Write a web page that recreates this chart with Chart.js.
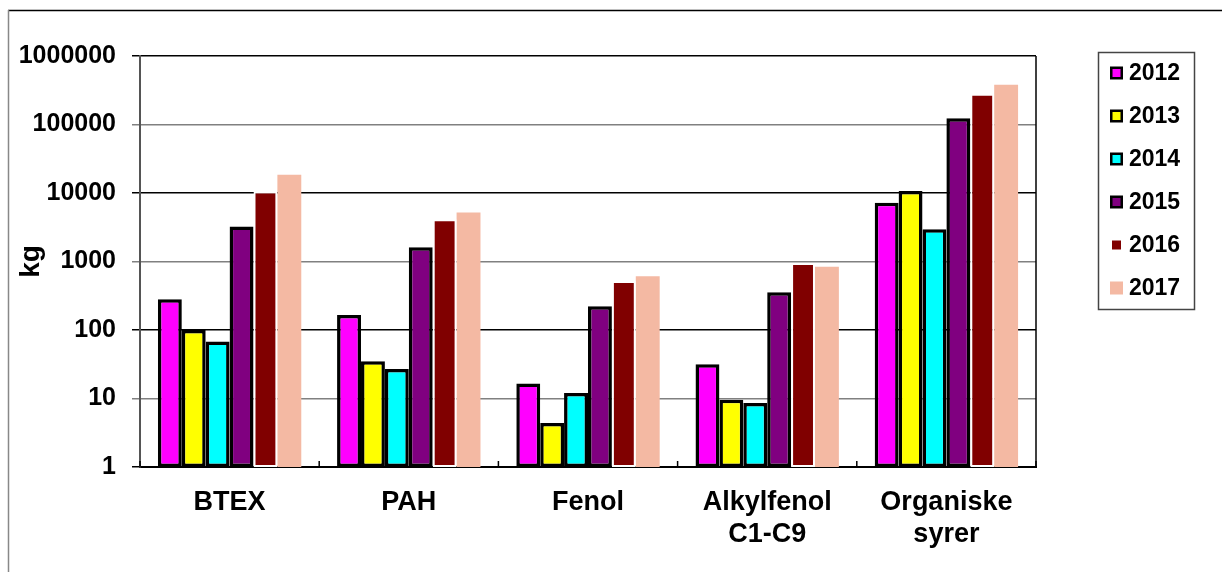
<!DOCTYPE html>
<html lang="en">
<head>
    <meta charset="UTF-8">
    <title>Utslipp kg</title>
    <script src="https://cdn.jsdelivr.net/npm/chart.js"></script>
    <style>
        body { margin: 0; background: #fff; }
        .wrap { width: 1222px; height: 572px; position: relative; }
    </style>
</head>
<body>
    <div class="wrap">
        <canvas id="chart"></canvas>
    </div>

    <script>
        // data (log scale, kg)
        const categories = ['BTEX', 'PAH', 'Fenol', ['Alkylfenol', 'C1-C9'], ['Organiske', 'syrer']];
        const years = ['2012', '2013', '2014', '2015', '2016', '2017'];
        const v2012 = [280, 165, 16.5, 31.5, 7200];
        const v2013 = [100, 35, 4.4, 9.6, 10700];
        const v2014 = [68, 27, 12, 8.6, 2950];
        const v2015 = [3250, 1620, 222, 355, 123000];
        const v2016 = [10500, 4150, 520, 950, 280000];
        const v2017 = [18500, 5200, 610, 840, 380000];
        const yTicks = [1, 10, 100, 1000, 10000, 100000, 1000000];

        const colors = ['#ff00ff', '#ffff00', '#00ffff', '#800080', '#800000', '#f4b9a3'];
        const values = [v2012, v2013, v2014, v2015, v2016, v2017];
        const FONT = '"Liberation Sans", Arial, sans-serif';

        const datasets = years.map((y, i) => {
            const ds = {
                label: y,
                data: values[i],
                backgroundColor: colors[i],
                borderColor: '#000000',
                borderWidth: 3.5,
                borderSkipped: false
            };
            if (i === 4) { ds.borderColor = '#ffffff'; ds.borderWidth = 2; }
            if (i === 5) { ds.borderWidth = 0; }
            return ds;
        });

        // frame, inner x ticks, right edge of plot, legend box
        const extras = {
            id: 'extras',
            afterDraw(chart) {
                const c = chart.ctx;
                const a = chart.chartArea;
                c.save();
                c.lineWidth = 1.5;
                c.strokeStyle = '#000';
                c.beginPath(); c.moveTo(8, 10.5); c.lineTo(1222, 10.5); c.stroke();
                c.strokeStyle = '#888';
                c.beginPath(); c.moveTo(8.5, 10); c.lineTo(8.5, 572); c.stroke();

                c.strokeStyle = '#000';
                c.beginPath(); c.moveTo(a.right, a.top); c.lineTo(a.right, a.bottom); c.stroke();
                const n = categories.length;
                for (let i = 0; i <= n; i++) {
                    const x = a.left + i * (a.right - a.left) / n;
                    c.beginPath(); c.moveTo(x, a.bottom - 6); c.lineTo(x, a.bottom); c.stroke();
                }

                // legend
                c.strokeStyle = '#444';
                c.lineWidth = 1.5;
                c.strokeRect(1098.5, 52.5, 96, 257);
                c.font = 'bold 23px ' + FONT;
                c.textBaseline = 'middle';
                c.textAlign = 'left';
                chart.data.datasets.forEach((ds, i) => {
                    const y = 73 + i * 43;
                    if (i < 4) {
                        c.fillStyle = '#000';
                        c.fillRect(1110, y - 6.5, 13, 13);
                        c.fillStyle = ds.backgroundColor;
                        c.fillRect(1112.5, y - 4, 8, 8);
                    } else if (i === 4) {
                        c.fillStyle = ds.backgroundColor;
                        c.fillRect(1112, y - 4.5, 9, 9);
                    } else {
                        c.fillStyle = ds.backgroundColor;
                        c.fillRect(1110, y - 6.5, 13, 13);
                    }
                    c.fillStyle = '#000';
                    c.fillText(ds.label, 1129, y + 1);
                });
                c.restore();
            }
        };

        new Chart(document.getElementById('chart'), {
            type: 'bar',
            data: { labels: categories, datasets: datasets },
            options: {
                responsive: true,
                maintainAspectRatio: false,
                animation: false,
                layout: { padding: { top: 56, right: 186, bottom: 0, left: 0 } },
                datasets: { bar: { barPercentage: 1, categoryPercentage: 0.8 } },
                plugins: {
                    legend: { display: false },
                    tooltip: { enabled: false }
                },
                scales: {
                    x: {
                        grid: { display: false },
                        border: { color: '#000', width: 2 },
                        ticks: {
                            color: '#000',
                            padding: 11,
                            font: { family: FONT, size: 27, weight: 'bold' }
                        },
                        afterFit(scale) { scale.height = 105; }
                    },
                    y: {
                        type: 'logarithmic',
                        min: 1,
                        max: 1000000,
                        afterBuildTicks(scale) {
                            scale.ticks = yTicks.map(v => ({ value: v }));
                        },
                        grid: {
                            color: ctx => (ctx.index % 2 === 0 ? '#000' : '#808080'),
                            lineWidth: 1.5,
                            tickLength: 8
                        },
                        border: { color: '#555', width: 2 },
                        ticks: {
                            color: '#000',
                            padding: 16,
                            font: { family: FONT, size: 25, weight: 'bold' },
                            callback: v => String(v)
                        },
                        title: {
                            display: true,
                            text: 'kg',
                            color: '#000',
                            padding: { top: 14, bottom: 0 },
                            font: { family: FONT, size: 28, weight: 'bold' }
                        },
                        afterFit(scale) { scale.width = 140; }
                    }
                }
            },
            plugins: [extras]
        });
    </script>
</body>
</html>
